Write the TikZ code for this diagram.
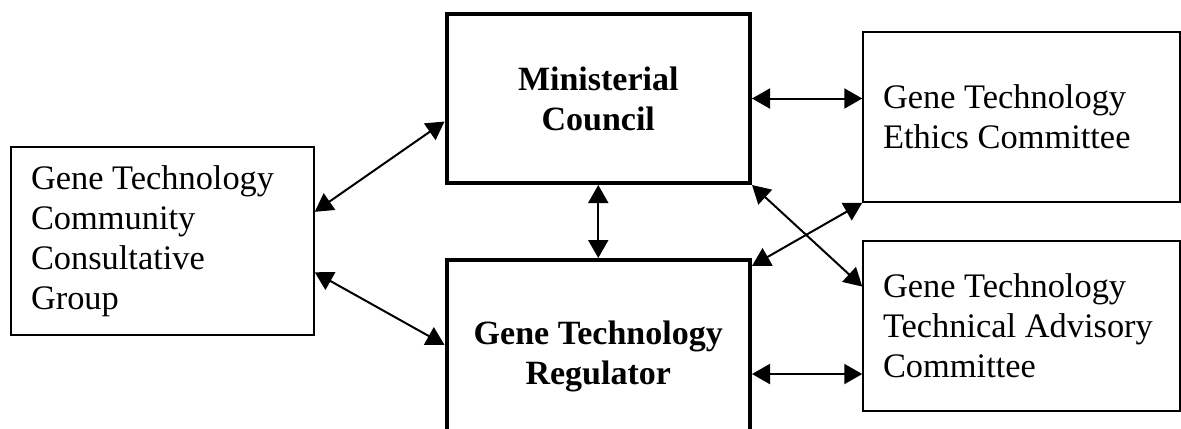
\documentclass[tikz,border=0pt]{standalone}
\usepackage{fontspec}
\setmainfont{Liberation Serif}
\usetikzlibrary{arrows.meta,calc}

\tikzset{
  thinbox/.style={draw, line width=0.75pt, rectangle, inner xsep=10pt, inner ysep=0pt,
    font=\fontsize{17.2}{20}\selectfont, align=flush left},
  thickbox/.style={draw, line width=2pt, rectangle, inner sep=0pt,
    font=\fontsize{17}{20}\selectfont\bfseries, align=center},
  link/.style={line width=1pt, {Triangle[length=9pt,width=10pt]}-{Triangle[length=9pt,width=10pt]}}
}

\begin{document}
\begin{tikzpicture}[x=0.5pt,y=-0.5pt]
\useasboundingbox (0,0) rectangle (1181,428);

% boxes
\node[thickbox, minimum width=151.75pt, minimum height=84.5pt] (council) at (598.25,98.5)
  {Ministerial\\Council};
\node[thickbox, minimum width=151.75pt, minimum height=96pt] (regulator) at (598.25,356)
  {Gene Technology\\Regulator};
\node[thinbox, text width=131.5pt, minimum height=94pt] (community) at (162.5,241)
  {Gene Technology\\Community\\Consultative\\Group};
\node[thinbox, text width=138.5pt, minimum height=85pt] (ethics) at (1021.5,117)
  {Gene Technology\\Ethics Committee};
\node[thinbox, text width=138.5pt, minimum height=85pt] (technical) at (1021.5,326)
  {Gene Technology\\Technical Advisory\\Committee};

% link ends
\coordinate (comA) at ($(community.north east)!0.346!(community.south east)$);
\coordinate (comB) at ($(community.north east)!0.665!(community.south east)$);
\coordinate (cncA) at ($(council.north west)!0.633!(council.south west)$);
\coordinate (regA) at ($(regulator.north west)!0.443!(regulator.south west)$);
\coordinate (regB) at ($(regulator.north east)!0.04!(regulator.south east)$);
\coordinate (tacA) at ($(technical.north west)!0.27!(technical.south west)$);
\coordinate (tacB) at ($(technical.south west)!0.22!(technical.north west)$);

% links
\draw[link] (comA) -- (cncA);
\draw[link] (comB) -- (regA);
\draw[link] (council.south) -- (regulator.north);
\draw[link] (council.east) -- (council.east -| ethics.west);
\draw[link] (tacB -| regulator.east) -- (tacB);
\draw[link] (council.south east) -- (tacA);
\draw[link] (ethics.south west) -- (regB);

\end{tikzpicture}
\end{document}
